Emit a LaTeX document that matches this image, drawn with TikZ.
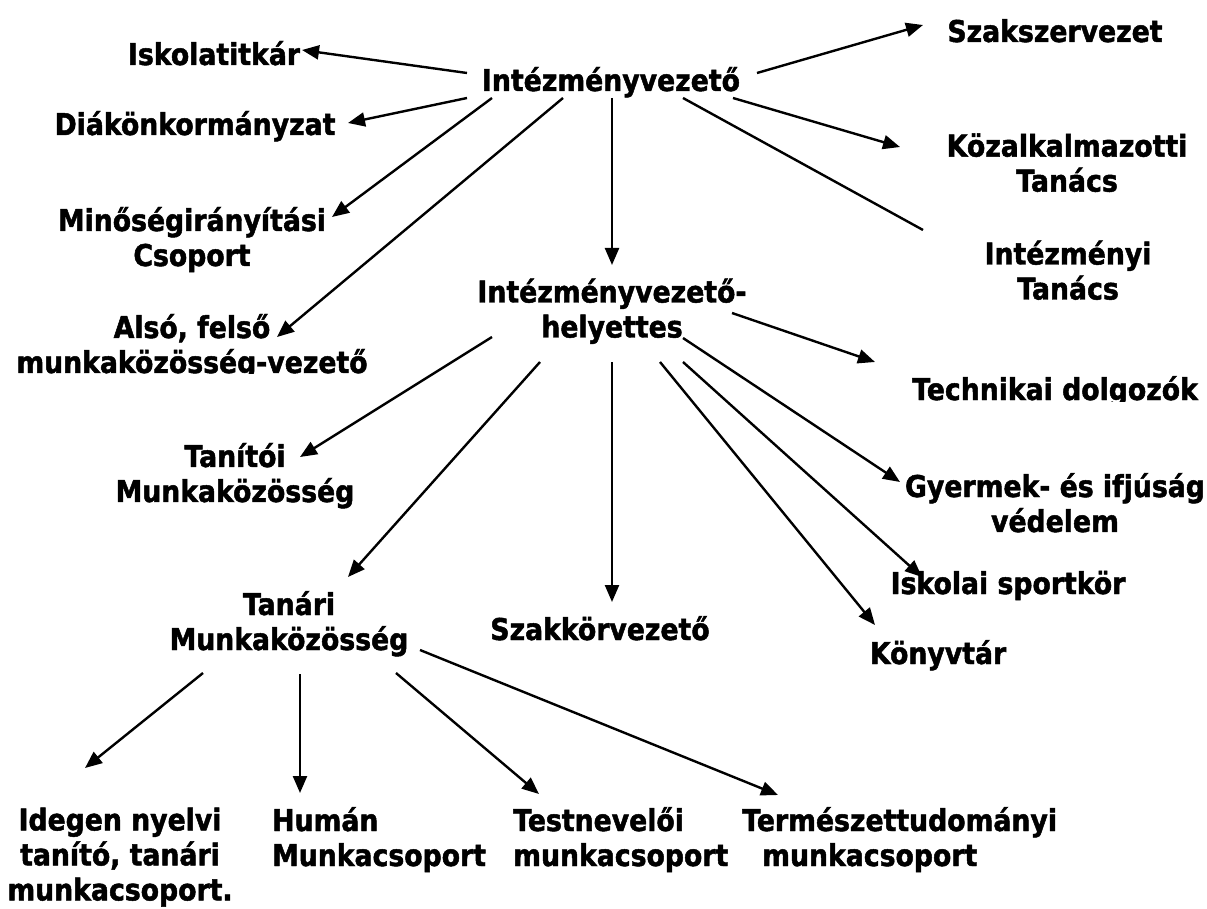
\documentclass[tikz,border=0pt]{standalone}
\usepackage{fontspec}
\newfontfamily\lblfont[FakeStretch=0.89, BoldFeatures={FakeBold=1.6}]{DejaVu Sans}
\usetikzlibrary{arrows.meta}
\tikzset{
  lbl/.style={inner sep=0pt, align=center, font=\lblfont\bfseries\fontsize{30}{35}\selectfont,
    execute at begin node={\rule{0pt}{30pt}}, execute at end node={\rule[-30pt]{0pt}{30pt}}},
  lbll/.style={lbl, align=left},
  arr/.style={line width=2.4pt, -{Triangle[length=17pt,width=14pt]}},
  plain/.style={line width=2.4pt}
}
\begin{document}
\begin{tikzpicture}[x=1pt,y=-1pt]
\fill[white] (0,0) rectangle (1207,909);
\useasboundingbox (0,0) rectangle (1207,909);
% nodes
\node[lbl] (iv) at (611,91) {Intézményvezető};
\node[lbl] (isk) at (214,65) {Iskolatitkár};
\node[lbl] (diak) at (195,135) {Diákönkormányzat};
\node[lbl] (min) at (192,251.5) {Minőségirányítási\\Csoport};
\begin{scope}
\clip (0,300) rectangle (420,373);
\node[lbl] (also) at (192,358.5) {Alsó, felső\\munkaközösség-vezető};
\end{scope}
\node[lbl] (szak) at (1055,42) {Szakszervezet};
\node[lbl] (koz) at (1067,177.5) {Közalkalmazotti\\Tanács};
\node[lbl] (intt) at (1068,285) {Intézményi\\Tanács};
\node[lbl] (ivh) at (612,323) {Intézményvezető-\\helyettes};
\begin{scope}
\clip (880,360) rectangle (1207,401);
\node[lbl] (tech) at (1055,400) {Technikai dolgozók};
\end{scope}
\node[lbl] (tanitoi) at (235,487.5) {Tanítói\\Munkaközösség};
\node[lbl] (tanari) at (289,635.5) {Tanári\\Munkaközösség};
\node[lbl] (szakkor) at (600,640) {Szakkörvezető};
\node[lbl] (gyerm) at (1055,517.5) {Gyermek- és ifjúság\\védelem};
\node[lbl] (sport) at (1008,594) {Iskolai sportkör};
\node[lbl] (konyv) at (938,664) {Könyvtár};
\node[lbl] (idegen) at (120,869) {Idegen nyelvi\\tanító, tanári\\munkacsoport.};
\node[lbll, anchor=west] (human) at (272,851.5) {Humán\\Munkacsoport};
\node[lbll, anchor=west] (testn) at (513,851.5) {Testnevelői\\munkacsoport};
\node[lbll, anchor=west] (termesz) at (742,851.5) {Természettudományi\\\hspace*{20pt}munkacsoport};
% connectors from Intézményvezető
\draw[arr] ([shift={(-144,-18)}]iv.center) -- ([shift={(88,-15)}]isk.center);
\draw[arr] ([shift={(-144,7)}]iv.center) -- ([shift={(153,-12)}]diak.center);
\draw[arr] ([shift={(-119,7)}]iv.center) -- ([shift={(140,-34.5)}]min.center);
\draw[arr] ([shift={(-48,7)}]iv.center) -- ([shift={(85,-21.5)}]also.center);
\draw[arr] ([shift={(1,7)}]iv.center) -- ([shift={(0,-58)}]ivh.center);
\draw[arr] ([shift={(146,-18)}]iv.center) -- ([shift={(-132,-17)}]szak.center);
\draw[arr] ([shift={(122,7)}]iv.center) -- ([shift={(-167,-30.5)}]koz.center);
\draw[plain] ([shift={(72,7)}]iv.center) -- ([shift={(-145,-55)}]intt.center);
% connectors from helyettes
\draw[arr] ([shift={(120,-10)}]ivh.center) -- ([shift={(-180,-38)}]tech.center);
\draw[arr] ([shift={(-120,14)}]ivh.center) -- ([shift={(65,-30.5)}]tanitoi.center);
\draw[arr] ([shift={(-72,39)}]ivh.center) -- ([shift={(59,-58.5)}]tanari.center);
\draw[arr] ([shift={(0,39)}]ivh.center) -- ([shift={(12,-38)}]szakkor.center);
\draw[arr] ([shift={(71,15)}]ivh.center) -- ([shift={(-155,-35.5)}]gyerm.center);
\draw[arr] ([shift={(71,39)}]ivh.center) -- ([shift={(-86,-17)}]sport.center);
\draw[arr] ([shift={(48,39)}]ivh.center) -- ([shift={(-63,-39)}]konyv.center);
% connectors from Tanári Munkaközösség
\draw[arr] ([shift={(-86,37.5)}]tanari.center) -- ([shift={(-35,-101)}]idegen.center);
\draw[arr] ([shift={(11,38.5)}]tanari.center) -- ([shift={(28,-58.5)}]human.west);
\draw[arr] ([shift={(107,37.5)}]tanari.center) -- ([shift={(26,-57.5)}]testn.west);
\draw[arr] ([shift={(131,14.5)}]tanari.center) -- ([shift={(36,-56.5)}]termesz.west);
\end{tikzpicture}
\end{document}
